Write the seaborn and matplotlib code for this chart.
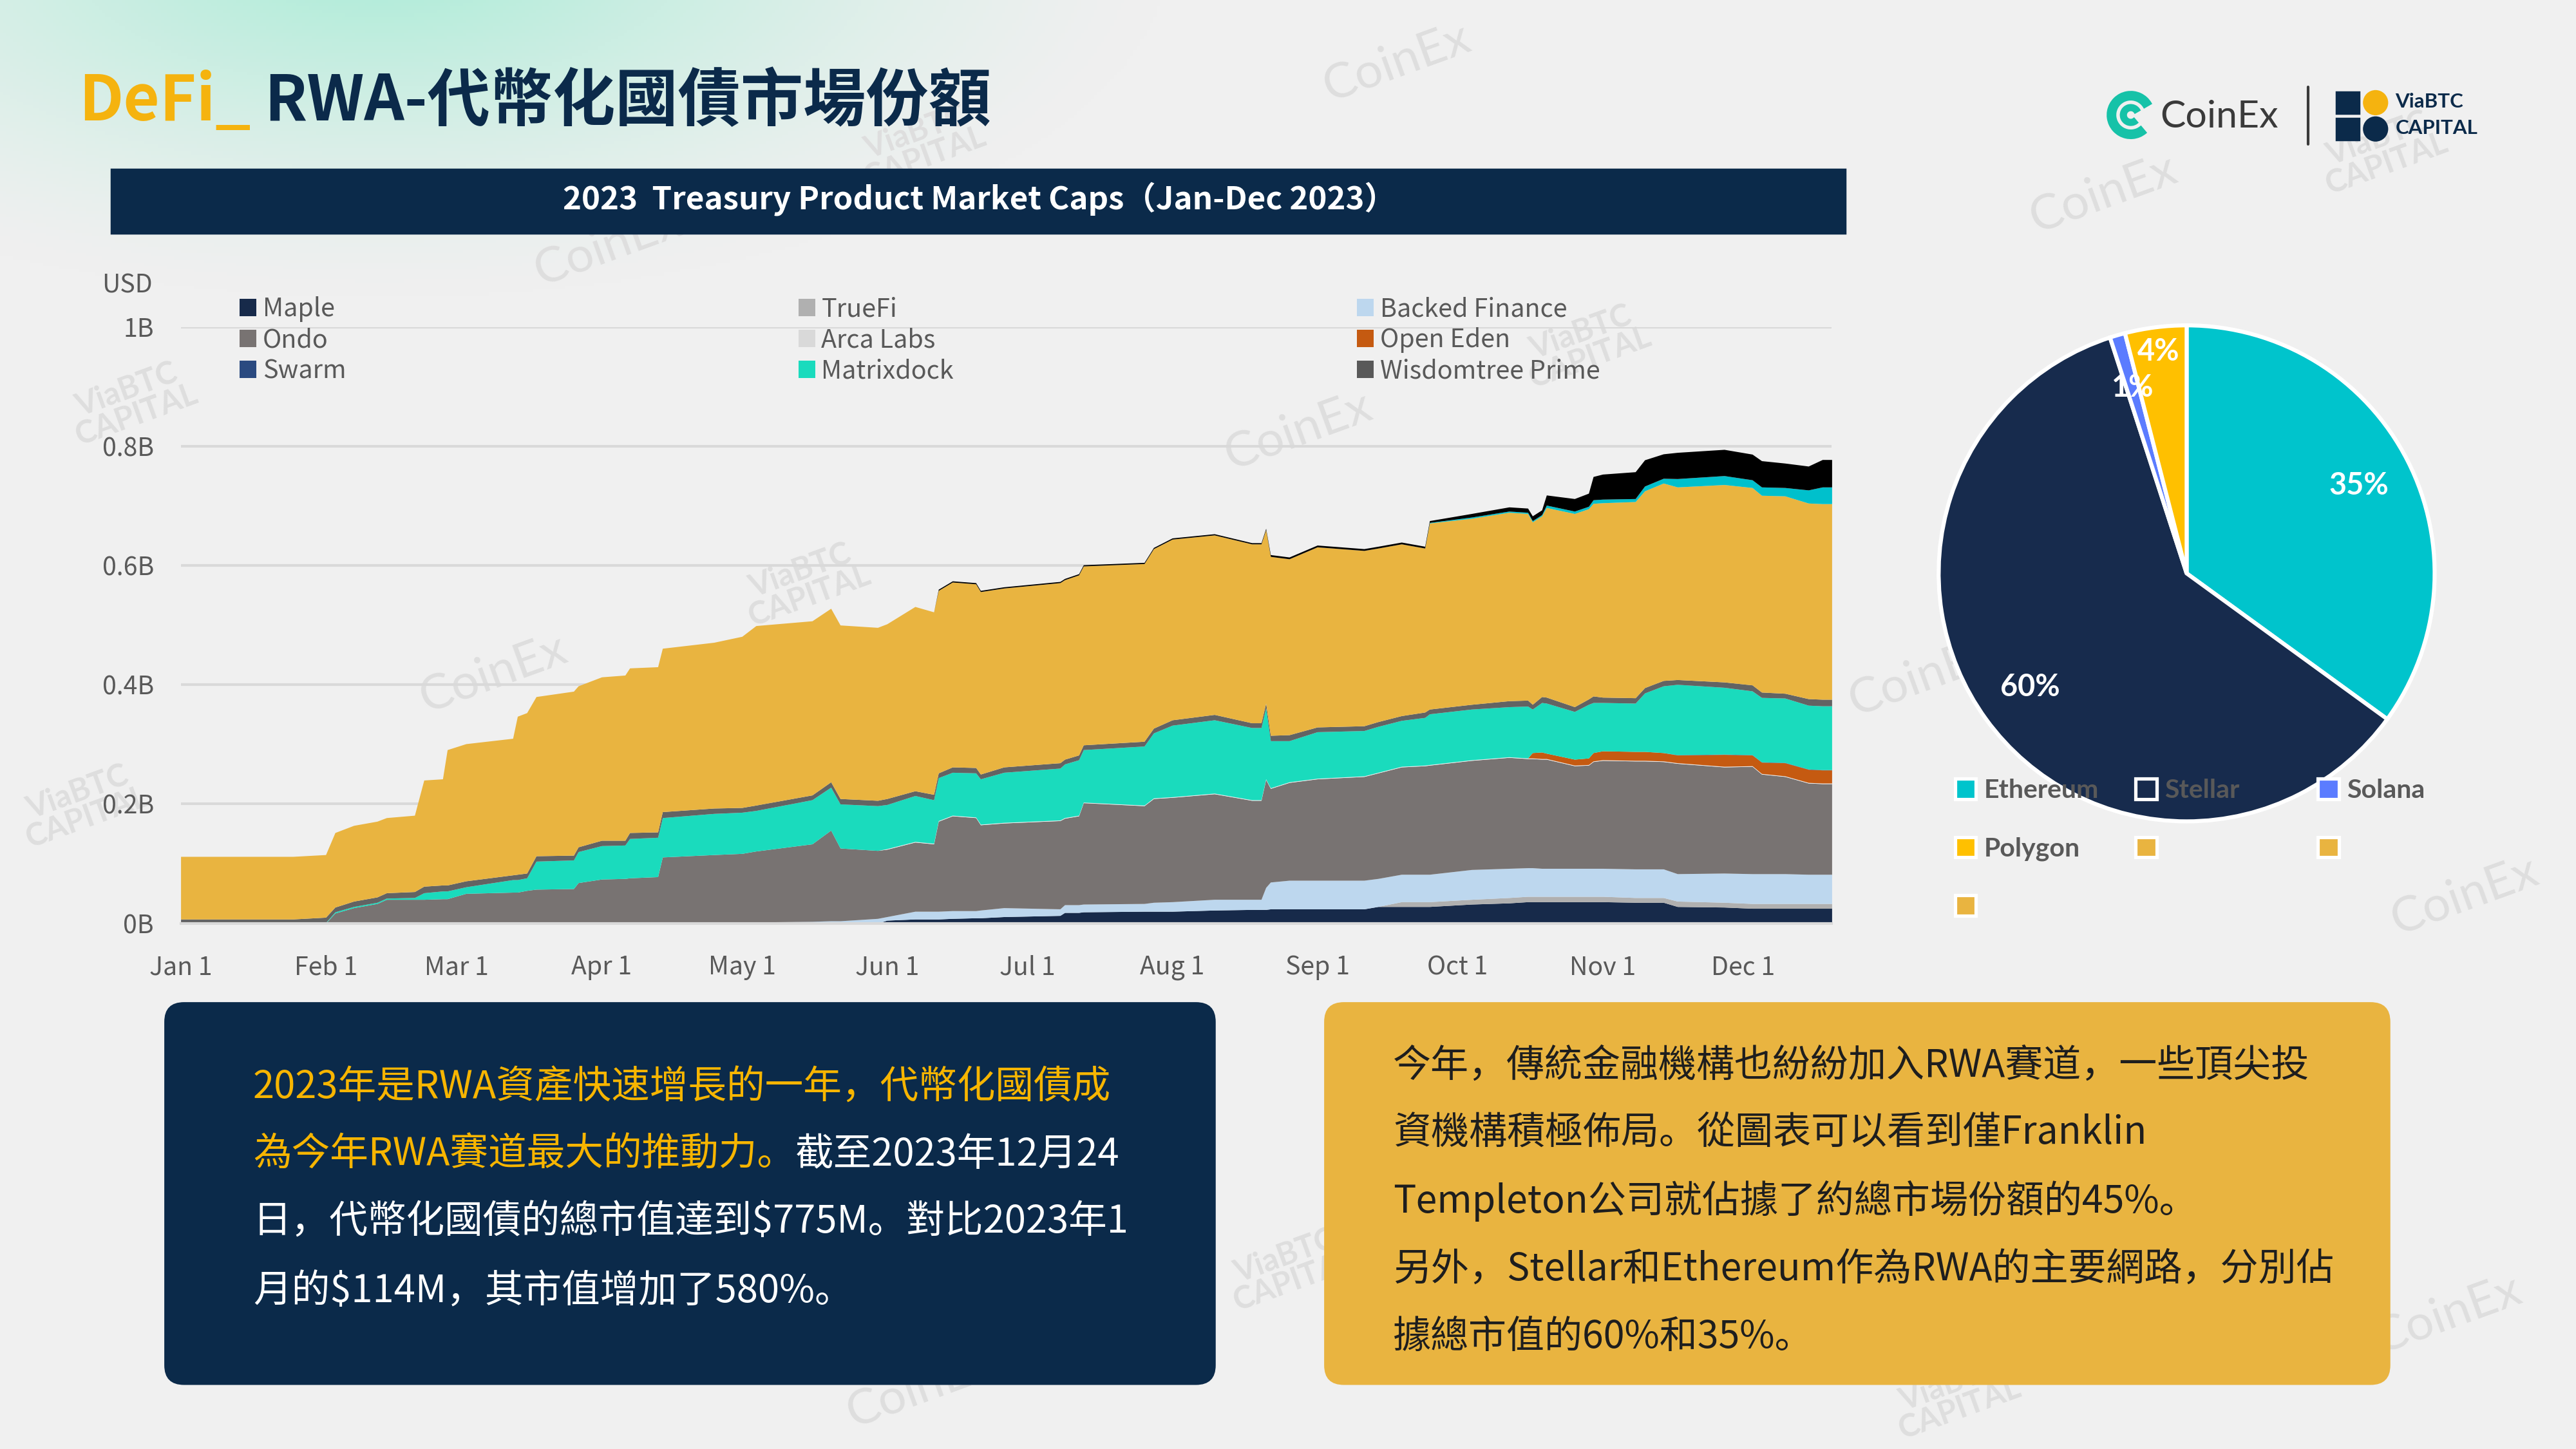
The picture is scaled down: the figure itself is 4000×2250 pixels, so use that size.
import numpy as np
import pandas as pd
import matplotlib
matplotlib.use("Agg")
import matplotlib.pyplot as plt
from matplotlib.patches import Patch, Rectangle, FancyBboxPatch, Circle, Wedge
import seaborn as sns

# ---------------- data (market cap, USD billions) ----------------
dates = [
    "2023-01-01", "2023-01-25", "2023-02-01", "2023-02-03", "2023-02-07", "2023-02-12", "2023-02-14", "2023-02-20", "2023-02-22", "2023-02-26",
    "2023-02-27", "2023-03-03", "2023-03-13", "2023-03-14", "2023-03-16", "2023-03-18", "2023-03-26", "2023-03-27", "2023-04-01", "2023-04-06",
    "2023-04-07", "2023-04-13", "2023-04-14", "2023-04-25", "2023-05-01", "2023-05-04", "2023-05-16", "2023-05-20", "2023-05-22", "2023-05-30",
    "2023-06-01", "2023-06-07", "2023-06-11", "2023-06-12", "2023-06-15", "2023-06-20", "2023-06-21", "2023-06-26", "2023-07-08", "2023-07-09",
    "2023-07-12", "2023-07-13", "2023-07-26", "2023-07-28", "2023-08-01", "2023-08-10", "2023-08-18", "2023-08-20", "2023-08-21", "2023-08-22",
    "2023-08-26", "2023-09-01", "2023-09-11", "2023-09-14", "2023-09-19", "2023-09-24", "2023-09-25", "2023-10-04", "2023-10-12", "2023-10-16",
    "2023-10-17", "2023-10-19", "2023-10-20", "2023-10-26", "2023-10-29", "2023-10-30", "2023-11-01", "2023-11-08", "2023-11-10", "2023-11-14",
    "2023-11-17", "2023-11-27", "2023-12-03", "2023-12-05", "2023-12-10", "2023-12-15", "2023-12-18", "2023-12-20",
]

maple = [
    0, 0, 0, 0, 0, 0, 0, 0, 0, 0,
    0, 0, 0, 0, 0, 0, 0, 0, 0, 0,
    0, 0, 0, 0, 0, 0, 0, 0, 0, 0,
    .005, .007, .007, .007, .008, .009, .009, .011, .013, .018,
    .018, .019, .020, .020, .020, .022, .023, .023, .023, .024,
    .024, .024, .024, .028, .028, .028, .028, .032, .034, .036,
    .036, .036, .036, .036, .036, .036, .036, .035, .035, .035,
    .028, .027, .025, .025, .025, .025, .025, .025,
]
truefi = [
    0, 0, 0, 0, 0, 0, 0, 0, 0, 0,
    0, 0, 0, 0, 0, 0, 0, 0, 0, 0,
    0, 0, 0, 0, 0, 0, 0, 0, 0, 0,
    0, 0, 0, 0, 0, 0, 0, 0, 0, 0,
    0, 0, 0, 0, 0, 0, 0, 0, 0, 0,
    0, 0, 0, 0, .008, .008, .008, .008, .009, .009,
    .009, .009, .009, .009, .009, .009, .009, .008, .008, .008,
    .009, .008, .008, .008, .008, .008, .008, .008,
]
backed = [
    0, 0, 0, 0, 0, 0, 0, 0, 0, 0,
    0, 0, 0, 0, 0, 0, 0, 0, 0, 0,
    0, 0, 0, 0, 0, .002, .003, .004, .004, .008,
    .006, .013, .013, .013, .013, .012, .013, .015, .011, .013,
    .013, .013, .013, .015, .016, .018, .017, .017, .037, .045,
    .048, .048, .048, .047, .046, .046, .046, .050, .049, .048,
    .048, .047, .047, .047, .047, .047, .047, .048, .048, .048,
    .046, .049, .050, .050, .050, .049, .049, .049,
]
ondo = [
    0, 0, 0, .017, .026, .033, .040, .040, .040, .041,
    .041, .050, .052, .052, .055, .057, .058, .068, .074, .075,
    .076, .078, .111, .115, .117, .119, .130, .152, .122, .114,
    .113, .116, .113, .151, .159, .156, .143, .142, .148, .145,
    .149, .170, .164, .174, .175, .177, .166, .166, .181, .157,
    .164, .170, .174, .177, .180, .182, .183, .183, .186, .183,
    .183, .183, .183, .172, .173, .179, .181, .181, .181, .180,
    .185, .178, .180, .167, .163, .153, .152, .152,
]
arca_labs = [
    0, 0, 0, 0, 0, 0, 0, 0, 0, 0,
    0, 0, 0, 0, 0, 0, 0, 0, 0, 0,
    0, 0, 0, 0, 0, 0, 0, 0, 0, 0,
    .001, .001, .001, .001, .001, .001, .001, .001, .001, .001,
    .001, .001, .001, .001, .001, .001, .001, .001, .001, .001,
    .001, .001, .001, .001, .001, .001, .001, .001, .001, .001,
    .001, .001, .001, .001, .001, .001, .001, .001, .001, .001,
    .001, .001, .001, .001, .001, .001, .001, .001,
]
open_eden = [
    0, 0, 0, 0, 0, 0, 0, 0, 0, 0,
    0, 0, 0, 0, 0, 0, 0, 0, 0, 0,
    0, 0, 0, 0, 0, 0, 0, 0, 0, 0,
    0, 0, 0, 0, 0, 0, 0, 0, 0, 0,
    0, 0, 0, 0, 0, 0, 0, 0, 0, 0,
    0, 0, 0, 0, 0, 0, 0, 0, 0, 0,
    .009, .011, .009, .010, .011, .014, .015, .015, .015, .014,
    .013, .020, .018, .019, .022, .022, .022, .022,
]
swarm = [
    0, 0, 0, 0, 0, 0, 0, 0, 0, 0,
    0, 0, 0, 0, 0, 0, 0, 0, 0, 0,
    0, 0, 0, 0, 0, 0, 0, 0, 0, 0,
    0, 0, 0, 0, 0, 0, 0, 0, 0, 0,
    0, 0, 0, 0, 0, 0, 0, 0, 0, 0,
    0, 0, 0, 0, 0, 0, 0, 0, 0, 0,
    0, 0, 0, 0, 0, 0, 0, 0, 0, 0,
    .0005, .0005, .0005, .0005, .0005, .0005, .0005, .0005,
]
matrixdock = [
    0, 0, .001, .002, .002, .002, .002, .003, .011, .013,
    .013, .011, .021, .021, .021, .047, .048, .052, .056, .056,
    .066, .066, .066, .069, .069, .068, .074, .072, .074, .075,
    .074, .077, .073, .072, .072, .074, .076, .084, .087, .090,
    .093, .088, .099, .109, .120, .123, .121, .121, .119, .079,
    .069, .078, .076, .077, .077, .080, .085, .085, .084, .087,
    .073, .083, .084, .080, .090, .084, .081, .081, .098, .112,
    .118, .112, .107, .108, .108, .107, .107, .107,
]
wisdomtree = [
    .007, .007, .009, .008, .009, .009, .009, .010, .011, .010,
    .010, .010, .008, .009, .008, .009, .008, .008, .009, .008,
    .010, .009, .010, .009, .008, .009, .008, .009, .009, .009,
    .010, .008, .009, .008, .009, .009, .008, .009, .009, .008,
    .008, .008, .008, .008, .009, .009, .008, .008, .008, .009,
    .010, .008, .008, .008, .008, .009, .008, .008, .010, .010,
    .008, .010, .010, .008, .009, .011, .009, .009, .009, .009,
    .008, .009, .010, .009, .008, .011, .011, .011,
]
franklin = [
    .105, .105, .105, .125, .127, .127, .126, .128, .178, .178,
    .227, .230, .229, .265, .269, .267, .275, .270, .274, .277,
    .276, .277, .274, .278, .287, .301, .292, .291, .291, .290,
    .293, .309, .306, .306, .310, .308, .306, .300, .302, .301,
    .302, .300, .298, .301, .303, .301, .300, .300, .291, .300,
    .295, .302, .294, .291, .288, .275, .312, .312, .316, .313,
    .306, .303, .318, .324, .319, .323, .326, .329, .330, .331,
    .323, .331, .331, .330, .331, .328, .328, .328,
]
other_cyan = [
    0, 0, 0, 0, 0, 0, 0, 0, 0, 0,
    0, 0, 0, 0, 0, 0, 0, 0, 0, 0,
    0, 0, 0, 0, 0, 0, 0, 0, 0, 0,
    0, 0, 0, 0, 0, 0, 0, 0, 0, 0,
    0, 0, 0, 0, 0, 0, 0, 0, 0, 0,
    0, 0, 0, 0, 0, 0, .001, .002, .002, .002,
    .002, .002, .004, .004, .004, .006, .006, .005, .008, .008,
    .014, .015, .013, .014, .014, .022, .028, .028,
]
other_black = [
    0, 0, 0, 0, 0, 0, 0, 0, 0, 0,
    0, 0, 0, 0, 0, 0, 0, 0, 0, 0,
    0, 0, 0, 0, 0, 0, 0, 0, 0, 0,
    0, 0, 0, .002, .002, .002, .002, .002, .002, .002,
    .002, .002, .002, .002, .002, .002, .002, .002, .002, .003,
    .003, .003, .003, .003, .003, .003, .003, .006, .007, .007,
    .008, .008, .017, .021, .022, .039, .042, .045, .044, .041,
    .044, .044, .043, .044, .041, .040, .046, .046,
]

y_ticks = [0, 0.2, 0.4, 0.6, 0.8, 1.0]
y_tick_labels = ["0B", "0.2B", "0.4B", "0.6B", "0.8B", "1B"]

pie_labels = ["Ethereum", "Stellar", "Solana", "Polygon"]
pie_shares = [35, 60, 1, 4]

# ---------------- style ----------------
sns.set_theme(style="white")
plt.rcParams['font.family'] = ['Noto Sans CJK SC', 'DejaVu Sans']
plt.rcParams['axes.unicode_minus'] = False

NAVY = '#0b2a4a'
GREY_TXT = '#595959'
W, H = 1568, 882          # layout grid (reference pixels)

layers = [
    ("Maple", maple, '#172a4a'),
    ("TrueFi", truefi, '#b0b0b0'),
    ("Backed Finance", backed, '#bdd7ee'),
    ("Ondo", ondo, '#787372'),
    ("Arca Labs", arca_labs, '#eeeeee'),
    ("Open Eden", open_eden, '#c55a11'),
    ("Swarm", swarm, '#2a4a80'),
    ("Matrixdock", matrixdock, '#1adbbd'),
    ("Wisdomtree Prime", wisdomtree, '#636363'),
    ("Franklin Templeton", franklin, '#e9b440'),
    ("Other A", other_cyan, '#00c0cc'),
    ("Other B", other_black, '#000000'),
]
legend_colors = {
    "Maple": '#172a4a', "Ondo": '#787372', "Swarm": '#2a4a80',
    "TrueFi": '#b0b0b0', "Arca Labs": '#d9d9d9', "Matrixdock": '#1adbbd',
    "Backed Finance": '#bdd7ee', "Open Eden": '#c55a11', "Wisdomtree Prime": '#595959',
}
pie_colors = ['#00c4cc', '#172b4d', '#5b7cff', '#ffc000']

fig = plt.figure(figsize=(16, 9), dpi=250, facecolor='#f0f0f0')


def rect(x0, y0, x1, y1):
    return [x0 / W, 1 - y1 / H, (x1 - x0) / W, (y1 - y0) / H]


# ---------------- background / decoration layer ----------------
ov = fig.add_axes([0, 0, 1, 1], zorder=-5)
yy, xx = np.mgrid[0:H:2, 0:W:2]
dist = np.hypot((xx - 230) / 480, (yy + 30) / 210)
glow = np.clip(1 - dist, 0, 1) ** 1.4
base = np.array([240, 240, 240]) / 255
mint = np.array([168, 236, 214]) / 255
ov.imshow(base + (mint - base) * glow[..., None], extent=[0, W, H, 0], aspect='auto', zorder=0)
ov.set_xlim(0, W)
ov.set_ylim(H, 0)
ov.axis('off')

# watermarks
for x, y in [(850, 38), (1280, 118), (790, 262), (370, 150), (300, 410), (1170, 412), (1490, 800), (1500, 545), (560, 845)]:
    ov.text(x, y, "CoinEx", rotation=20, fontsize=22, color='#dedede', ha='center', va='center',
            family=['Lato', 'DejaVu Sans'], zorder=1)
for x, y in [(80, 245), (560, 88), (490, 355), (965, 210), (50, 490), (785, 772), (1450, 92), (1190, 850)]:
    ov.text(x, y, "ViaBTC\nCAPITAL", rotation=20, fontsize=14, color='#dedede', ha='center', va='center',
            family=['Lato', 'DejaVu Sans'], fontweight='bold', linespacing=0.9, zorder=1)

renderer = fig.canvas.get_renderer()


def text_runs(x, y, parts, **kw):
    for s, c in parts:
        t = ov.text(x, y, s, color=c, ha='left', va='center', parse_math=False, zorder=5, **kw)
        bb = t.get_window_extent(renderer)
        x = ov.transData.inverted().transform((bb.x1, bb.y0))[0]
    return x


# title
x_after = text_runs(48, 62, [("DeFi_", '#f5b30f')], fontsize=28, fontweight='bold')
ov.text(x_after + 8, 62, "RWA-代幣化國債市場份額", color=NAVY, fontsize=28, fontweight='bold',
        ha='left', va='center', zorder=5)

# logos
ov.add_patch(Wedge((1297, 70), 14, 50, 330, width=4.5, color='#16c2a8', zorder=5))
ov.add_patch(Wedge((1297, 70), 6, 50, 330, width=3, color='#16c2a8', zorder=5))
ov.text(1315, 71, "CoinEx", fontsize=17, color='#3a3a3a', ha='left', va='center',
        family=['Lato', 'DejaVu Sans'], zorder=5)
ov.plot([1405, 1405], [53, 88], color='#3a3a3a', lw=1.2, zorder=5)
ov.add_patch(Rectangle((1422, 56), 14, 13, color=NAVY, zorder=5))
ov.add_patch(Circle((1446, 62.5), 7, color='#f5b30f', zorder=5))
ov.add_patch(Rectangle((1422, 72), 14, 13, color=NAVY, zorder=5))
ov.add_patch(Circle((1446, 78.5), 7, color=NAVY, zorder=5))
ov.text(1458, 62, "ViaBTC", fontsize=9, fontweight='bold', color=NAVY, ha='left', va='center',
        family=['Lato', 'DejaVu Sans'], zorder=5)
ov.text(1458, 78, "CAPITAL", fontsize=9, fontweight='bold', color=NAVY, ha='left', va='center',
        family=['Lato', 'DejaVu Sans'], zorder=5)

# chart title bar
ov.add_patch(Rectangle((68, 103), 1055, 39, color=NAVY, zorder=4))
ov.text(596, 121, "2023  Treasury Product Market Caps（Jan-Dec 2023）", color='white', fontsize=14.2,
        fontweight='bold', ha='center', va='center', zorder=5)

# text boxes
ov.add_patch(FancyBboxPatch((100, 610), 640, 233, boxstyle="round,pad=0,rounding_size=12",
                            fc=NAVY, ec='none', zorder=4))
ov.add_patch(FancyBboxPatch((806, 610), 649, 233, boxstyle="round,pad=0,rounding_size=12",
                            fc='#e9b440', ec='none', zorder=4))

YEL = '#f7b500'
left_lines = [
    (662, [("2023年是RWA資產快速增長的一年，代幣化國債成", YEL)]),
    (703, [("為今年RWA賽道最大的推動力。", YEL), ("截至2023年12月24", 'white')]),
    (744, [("日，代幣化國債的總市值達到$775M。對比2023年1", 'white')]),
    (786, [("月的$114M，其市值增加了580%。", 'white')]),
]
for y, parts in left_lines:
    text_runs(154, y, parts, fontsize=17.2)

right_lines = [
    (649, "今年，傳統金融機構也紛紛加入RWA賽道，一些頂尖投"),
    (690, "資機構積極佈局。從圖表可以看到僅Franklin"),
    (731, "Templeton公司就佔據了約總市場份額的45%。"),
    (773, "另外，Stellar和Ethereum作為RWA的主要網路，分別佔"),
    (814, "據總市值的60%和35%。"),
]
for y, s in right_lines:
    text_runs(848, y, [(s, '#1e1e1e')], fontsize=17)

# ---------------- stacked area chart ----------------
df = pd.DataFrame({name: vals for name, vals, _ in layers}, index=pd.to_datetime(dates))

ax = fig.add_axes(rect(110, 199, 1115, 562))
ax.set_facecolor('none')
ax.stackplot(df.index, *[df[name] for name, _, _ in layers],
             colors=[c for _, _, c in layers], linewidth=0, zorder=2)
ax.set_xlim(df.index[0], df.index[-1])
ax.set_ylim(0, 1.0)
ax.set_yticks(y_ticks)
ax.set_yticklabels(y_tick_labels)
month_ticks = pd.date_range("2023-01-01", "2023-12-01", freq="MS")
ax.set_xticks(month_ticks)
ax.set_xticklabels([f"{d.strftime('%b')} 1" for d in month_ticks])
ax.grid(axis='y', color='#d9d9d9', lw=1.2, zorder=0)
ax.grid(axis='x', visible=False)
for s in ['top', 'right', 'left']:
    ax.spines[s].set_visible(False)
ax.spines['bottom'].set_color('#d9d9d9')
ax.spines['bottom'].set_linewidth(1.2)
ax.tick_params(axis='x', length=4.5, width=1, color='#d9d9d9', labelsize=11.3, labelcolor=GREY_TXT, pad=9.5)
ax.tick_params(axis='y', length=0, labelsize=11.3, labelcolor=GREY_TXT, pad=12)
fig.text(93 / W, 1 - 174 / H, "USD", ha='right', va='center', fontsize=11.3, color=GREY_TXT)

legend_cols = [
    (146, ["Maple", "Ondo", "Swarm"]),
    (486, ["TrueFi", "Arca Labs", "Matrixdock"]),
    (826, ["Backed Finance", "Open Eden", "Wisdomtree Prime"]),
]
for x, names in legend_cols:
    fig.legend([Patch(fc=legend_colors[n], ec='none') for n in names], names,
               loc='upper left', bbox_to_anchor=(x / W, 1 - 180.5 / H), bbox_transform=fig.transFigure,
               frameon=False, fontsize=11.4, labelcolor=GREY_TXT, handlelength=0.65, handleheight=0.65,
               handletextpad=0.25, labelspacing=0.2, borderpad=0, borderaxespad=0)

# ---------------- pie chart ----------------
pax = fig.add_axes(rect(1174, 192, 1488, 506))
wedges, _, autotexts = pax.pie(
    pie_shares, colors=pie_colors, startangle=90, counterclock=False,
    autopct='%1.0f%%', pctdistance=0.78,
    wedgeprops=dict(edgecolor='white', linewidth=1.8),
    textprops=dict(color='white', fontsize=13.5, fontweight='bold', family=['Lato', 'DejaVu Sans']))
px, py = autotexts[3].get_position()
autotexts[3].set_position((px * 0.9 / 0.78, py * 0.9 / 0.78))
pax.set_xlim(-1.04, 1.04)
pax.set_ylim(-1.04, 1.04)
pax.set_aspect('equal')

blank = '#e9b440'
pie_legend_cols = [
    (1190, [(pie_labels[0], pie_colors[0]), (pie_labels[3], pie_colors[3]), ("", blank)]),
    (1300, [(pie_labels[1], pie_colors[1]), ("", blank)]),
    (1411, [(pie_labels[2], pie_colors[2]), ("", blank)]),
]
for x, items in pie_legend_cols:
    fig.legend([Patch(fc=c, ec='white', lw=1.5) for _, c in items], [s for s, _ in items],
               loc='upper left', bbox_to_anchor=(x / W, 1 - 474 / H), bbox_transform=fig.transFigure,
               frameon=False, prop=dict(size=11.8, weight='bold', family=['Lato', 'DejaVu Sans']),
               labelcolor=GREY_TXT, handlelength=0.8, handleheight=0.8, handletextpad=0.3,
               labelspacing=1.3, borderpad=0, borderaxespad=0)

fig.savefig("out.png", dpi=250, facecolor=fig.get_facecolor())
